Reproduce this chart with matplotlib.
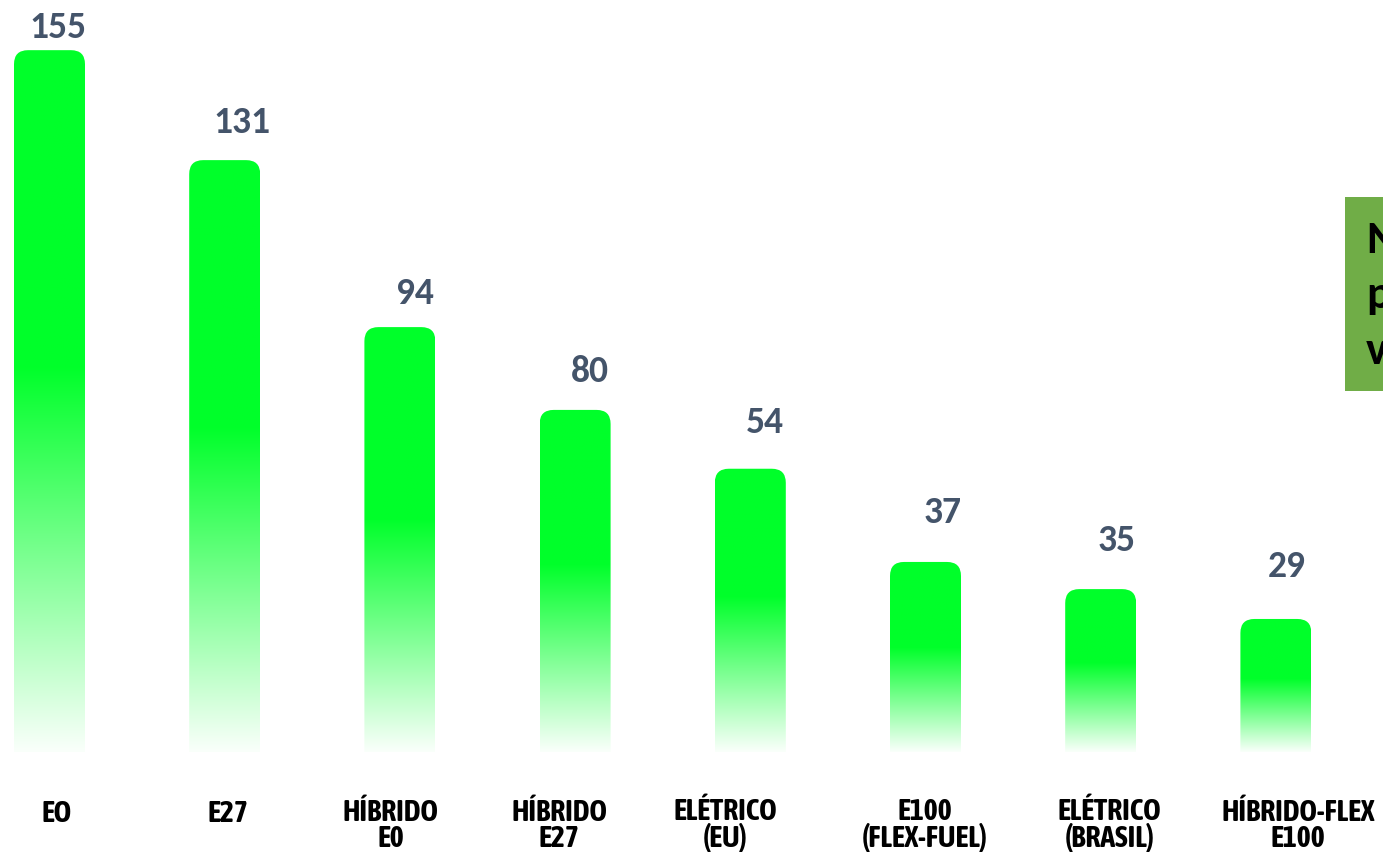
import numpy as np
import matplotlib
matplotlib.use("Agg")
import matplotlib.pyplot as plt
from matplotlib.patches import FancyBboxPatch, Rectangle
from matplotlib import font_manager as fm

# ---------------- data ----------------
categories = ["EO", "E27", "HÍBRIDO\nE0", "HÍBRIDO\nE27", "ELÉTRICO\n(EU)",
              "E100\n(FLEX-FUEL)", "ELÉTRICO\n(BRASIL)", "HÍBRIDO-FLEX\nE100"]
values = [155, 131, 94, 80, 54, 37, 35, 29]            # printed labels
# bar lengths as drawn in the picture (same units; the original is not exactly to scale)
bar_heights = [155.1, 130.8, 93.9, 75.6, 62.6, 42.0, 36.0, 29.4]
side_box_lines = ["N", "p", "v"]

# ---------------- style / layout (pixels) ----------------
W, H = 1383, 852
x_unit_px = 175.2          # px between bar centres
y_unit_px = 4.525          # px per value unit
x0_px = 49.5               # centre of first bar from left
base_px = 100              # baseline distance from bottom of figure
bar_w_px = 71
radius_px = 14
value_dx_px = [8, 17, 15, 15, 15, 17, 16, 11]
value_gap_px = [23, 38, 34, 38, 46, 49, 49, 52]
label_dx_px = [7, 3, -9, -16, -25, -1, 9, 22]
green = np.array([0, 255, 42]) / 255.0
value_color = "#44546A"
box_color = "#70AD47"

installed = {f.name for f in fm.fontManager.ttflist}
if "Carlito" in installed:
    value_font, value_size = ["Carlito", "DejaVu Sans"], 27
else:
    value_font, value_size = ["Lato", "DejaVu Sans"], 23.5
label_font = [f for f in ["Asap Condensed", "Barlow Semi Condensed", "Liberation Sans"]
              if f in installed][:1] + ["DejaVu Sans"]

fig = plt.figure(figsize=(W / 100, H / 100), dpi=100)
ax = fig.add_axes([0, 0, 1, 1])
ax.axis("off")

bw = bar_w_px / x_unit_px
for i, (v, hgt) in enumerate(zip(values, bar_heights)):
    n = 400
    t = np.linspace(0, 1, n)
    f = np.clip(0.02 + t / 0.56, 0, 1)
    img = (1 - f)[:, None] * np.ones(3)[None, :] + f[:, None] * green[None, :]
    img = img[:, None, :]
    im = ax.imshow(img, origin="lower", extent=(i - bw / 2, i + bw / 2, 0, hgt),
                   aspect="auto", interpolation="bilinear", zorder=2)
    clip = FancyBboxPatch((i - bw / 2, -20), bw, hgt + 20,
                          boxstyle=f"round,pad=0,rounding_size={radius_px / x_unit_px}",
                          mutation_aspect=x_unit_px / y_unit_px,
                          transform=ax.transData, facecolor="none", edgecolor="none")
    ax.add_patch(clip)
    im.set_clip_path(clip)
    ax.annotate(str(v), xy=(i, hgt), xytext=(value_dx_px[i], value_gap_px[i]),
                textcoords="offset pixels", ha="center", va="center",
                fontsize=value_size, fontweight="bold", color=value_color,
                family=value_font, zorder=3)

ax.set_xlim(-x0_px / x_unit_px, (W - x0_px) / x_unit_px)
ax.set_ylim(-base_px / y_unit_px, (H - base_px) / y_unit_px)

# category labels: first-line baseline in pixel coords from top, 25 px per line
first_baseline_top = 822
line_step_px = 25
for i, cat in enumerate(categories):
    xc_px = x0_px + i * x_unit_px + label_dx_px[i]
    nlines = cat.count("\n") + 1
    last_baseline = first_baseline_top + (nlines - 1) * line_step_px
    fig.text(xc_px / W, 1 - last_baseline / H, cat,
             ha="center", va="baseline", multialignment="center",
             fontsize=21.5, fontweight="bold", linespacing=0.86,
             color="black", family=label_font)

# side box (clipped at the right edge)
fig.patches.append(Rectangle((1345 / W, 1 - 391 / H), 60 / W, (391 - 197) / H,
                             transform=fig.transFigure, facecolor=box_color,
                             edgecolor="none"))
box_baselines = [253, 308, 364]
for line, yb in zip(side_box_lines, box_baselines):
    fig.text(1366 / W, 1 - yb / H, line, ha="left", va="baseline",
             fontsize=value_size + 6, fontweight="bold", color="black",
             family=value_font)

fig.savefig("out.png", dpi=100)
